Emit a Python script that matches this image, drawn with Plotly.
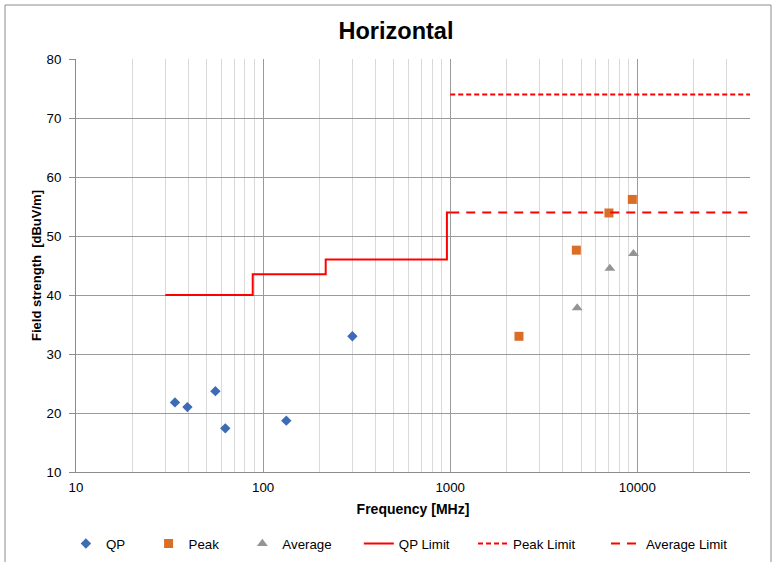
import plotly.graph_objects as go

# Data
qp_freq = [33.8, 39.4, 55.6, 62.8, 133, 300]
qp_level = [21.8, 21.0, 23.7, 17.4, 18.7, 33.0]

peak_freq = [2330, 4720, 7050, 9400]
peak_level = [33.0, 47.6, 53.9, 56.2]

avg_freq = [4770, 7130, 9530]
avg_level = [37.8, 44.5, 47.0]

qp_lim_freq = [30, 88, 88, 216, 216, 960, 960, 1000]
qp_lim_level = [40, 40, 43.5, 43.5, 46, 46, 54, 54]

peak_lim_freq = [1000, 40000]
peak_lim_level = [74, 74]

avg_lim_freq = [1000, 40000]
avg_lim_level = [54, 54]

x_tickvals = [10, 100, 1000, 10000]
x_ticktext = ["10", "100", "1000", "10000"]
y_tickvals = [10, 20, 30, 40, 50, 60, 70, 80]

FONT = "Liberation Sans, Arial, sans-serif"


def pad(name, n):
    return name + "&nbsp;" * n


fig = go.Figure()
fig.add_trace(go.Scatter(x=qp_freq, y=qp_level, mode="markers", name=pad("QP", 5),
                         marker=dict(symbol="diamond", size=8, color="#3E6CB4")))
fig.add_trace(go.Scatter(x=peak_freq, y=peak_level, mode="markers", name=pad("Peak", 5),
                         marker=dict(symbol="square", size=9, color="#DA6E29")))
fig.add_trace(go.Scatter(x=avg_freq, y=avg_level, mode="markers", name=pad("Average", 6),
                         marker=dict(symbol="triangle-up", size=9.5, color="#949494")))
fig.add_trace(go.Scatter(x=qp_lim_freq, y=qp_lim_level, mode="lines", name=pad("QP Limit", 5),
                         line=dict(color="#FF0000", width=2)))
fig.add_trace(go.Scatter(x=peak_lim_freq, y=peak_lim_level, mode="lines", name=pad("Peak Limit", 7),
                         line=dict(color="#FF0000", width=2, dash="5px,3px")))
fig.add_trace(go.Scatter(x=avg_lim_freq, y=avg_lim_level, mode="lines", name="Average Limit",
                         line=dict(color="#FF0000", width=2, dash="9px,7px")))

fig.update_layout(
    width=776, height=562,
    margin=dict(l=76, r=26, t=59, b=90, autoexpand=False),
    paper_bgcolor="white", plot_bgcolor="white",
    font=dict(family=FONT, size=13, color="black"),
    title=dict(text="<b>Horizontal</b>", x=396 / 776, xanchor="center", y=1 - 30.5 / 562, yanchor="middle",
               font=dict(size=23.5, family=FONT, color="black")),
    showlegend=True,
    legend=dict(orientation="h", x=-0.015, xanchor="left", y=-0.174, yanchor="middle",
                font=dict(size=13.3, family=FONT), itemwidth=30, traceorder="normal"),
    shapes=[dict(type="rect", xref="paper", yref="paper",
                 x0=-71 / 674, x1=1 + 21 / 674, y0=-1, y1=1 + 54 / 413,
                 line=dict(color="#8C8C8C", width=1), fillcolor="rgba(0,0,0,0)", layer="below")],
)

fig.update_xaxes(
    type="log", range=[1, 4.60206], automargin=False,
    tickvals=x_tickvals, ticktext=x_ticktext,
    showgrid=True, gridcolor="#9A9A9A", gridwidth=1,
    minor=dict(showgrid=True, gridcolor="#D9D9D9", gridwidth=1,
               dtick="D1", ticks=""),
    showline=True, linecolor="#8C8C8C", linewidth=1,
    ticks="", tickfont=dict(size=13.3), ticklabelstandoff=3,
    title=dict(text="<b>Frequency [MHz]</b>", font=dict(size=14), standoff=10),
    zeroline=False,
)
fig.update_yaxes(
    range=[10, 80], tickvals=y_tickvals, automargin=False,
    showgrid=True, gridcolor="#9A9A9A", gridwidth=1,
    showline=True, linecolor="#8C8C8C", linewidth=1,
    ticks="outside", ticklen=6, tickcolor="#8C8C8C", tickfont=dict(size=13.3),
    ticklabelstandoff=5,
    title=dict(text="<b>Field strength  [dBuV/m]</b>", font=dict(size=13), standoff=1),
    zeroline=False,
)

fig.write_html("out.html", config={"displayModeBar": False},
               post_script="document.body.style.margin='0';")
